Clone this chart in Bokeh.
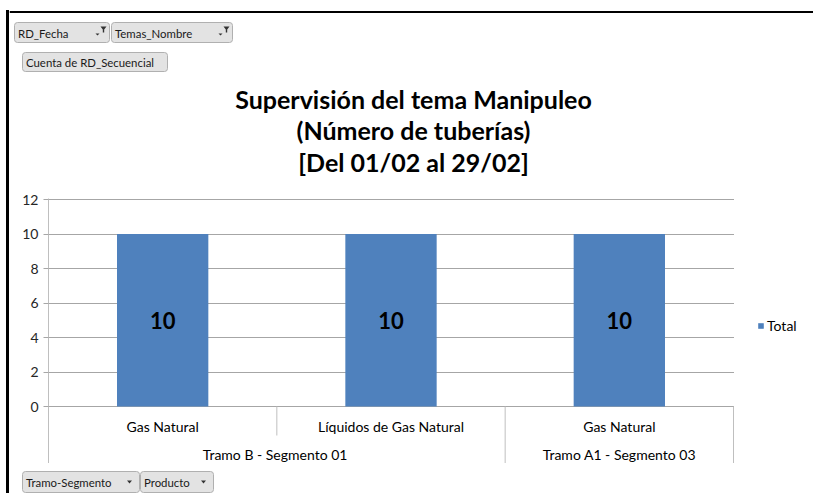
from bokeh.plotting import figure
from bokeh.layouts import column, row
from bokeh.models import (Range1d, FixedTicker, ColumnDataSource, BoxAnnotation,
                          Legend, LegendItem, Spacer)
from bokeh.core.properties import value
from bokeh.embed import file_html
from bokeh.resources import INLINE

# ---------------- data ----------------
products = ["Gas Natural", "Líquidos de Gas Natural", "Gas Natural"]
segments = ["Tramo  B - Segmento 01", "Tramo  B - Segmento 01", "Tramo A1 - Segmento 03"]
counts = [10, 10, 10]
y_ticks = [0, 2, 4, 6, 8, 10, 12]
title_lines = ["Supervisión del tema Manipuleo", "(Número de tuberías)", "[Del 01/02 al 29/02]"]
filter_fields = ["RD_Fecha", "Temas_Nombre"]
value_field = "Cuenta de RD_Secuencial"
axis_fields = ["Tramo-Segmento", "Producto"]
series_name = "Total"

# ---------------- styling / layout ----------------
W, H = 813, 493
LEFT_GAP, LEFT_LINE = 6, 3       # black frame line of the screenshot, left side
X0 = LEFT_GAP + LEFT_LINE        # page x where the content column starts
CW_ALL = W - X0
TOP_H = 186          # title/buttons band (page y 0 .. 186)
CH_MT = 12           # room above the plot frame for the top tick label
CH_H = 277           # chart band (page y 186 .. 463), frame 198 .. 463
BOT_H = H - TOP_H - CH_H
RIGHT_W = 79
PX_PER_UNIT = 17.25
FONT = "Lato"
BLUE = "#4f81bd"
GRID = "#a6a6a6"
BTN_FILL = "#e3e3e3"
BTN_LINE = "#b0b0b0"


def deco_fig(w, h, x0, y0):
    f = figure(width=w, height=h, output_backend="svg", toolbar_location=None,
               x_range=Range1d(x0, x0 + w), y_range=Range1d(y0 + h, y0),
               x_axis_location=None, y_axis_location=None)
    f.min_border_left = f.min_border_right = f.min_border_top = f.min_border_bottom = 0
    f.grid.visible = False
    f.outline_line_color = None
    f.background_fill_color = "white"
    f.border_fill_color = "white"
    return f


def button(f, label, l, t, r, b, kind):
    f.add_layout(BoxAnnotation(left=l, right=r, top=t, bottom=b, fill_color=BTN_FILL,
                               fill_alpha=1, line_color=BTN_LINE, line_alpha=1,
                               border_radius=3, level="underlay"))
    f.text(x=[l + 3.5], y=[(t + b) / 2 + 0.5], text=[label], text_align="left",
           text_baseline="middle", text_font=value(FONT), text_font_size="11.4px",
           text_color="#1a1a1a")
    cy = (t + b) / 2
    if kind == "filter":
        ax = r - 12
        f.patch(x=[ax - 2, ax + 2, ax], y=[cy + 1, cy + 1, cy + 3], fill_color="#333333",
                line_color=None)
        fx = r - 9
        fy = t + 4
        f.patch(x=[fx, fx + 6, fx + 3.7, fx + 3.7, fx + 2.3, fx + 2.3],
                y=[fy, fy, fy + 3, fy + 6, fy + 6, fy + 3], fill_color="#333333", line_color=None)
    elif kind == "drop":
        ax = r - 10
        f.patch(x=[ax - 2.5, ax + 2.5, ax], y=[cy - 1.5, cy - 1.5, cy + 1.5],
                fill_color="#333333", line_color=None)


# ---------------- top band: border, field buttons, title ----------------
top = deco_fig(CW_ALL, TOP_H, X0, 0)
top.quad(left=[X0], right=[W], top=[10.5], bottom=[12.5], fill_color="black", line_color=None)
button(top, filter_fields[0], 14, 22, 109, 42, "filter")
button(top, filter_fields[1], 111, 22, 232, 42, "filter")
button(top, value_field, 22, 52, 167, 71, None)
top.text(x=[413] * len(title_lines), y=[98.5, 129.5, 161], text=title_lines, text_align="center",
         text_baseline="middle", text_font=value(FONT), text_font_style="bold",
         text_font_size="25px", text_color="black")

# ---------------- chart ----------------
CW = CW_ALL - RIGHT_W
ML = 48 - X0
FW = CW - ML
FH = CH_H - CH_MT
n = len(products)
xs = [i + 0.5 for i in range(n)]
y_end = max(y_ticks) + 1 / PX_PER_UNIT
y_start = y_end - FH / PX_PER_UNIT

p = figure(width=CW, height=CH_H, output_backend="svg", toolbar_location=None,
           x_range=Range1d(0, n * FW / (FW - 1)), y_range=Range1d(y_start, y_end),
           x_axis_location=None)
p.min_border_left = ML
p.min_border_right = 0
p.min_border_top = CH_MT
p.min_border_bottom = 0
p.outline_line_color = None
p.background_fill_color = "white"
p.border_fill_color = "white"
p.xgrid.visible = False
p.ygrid.ticker = FixedTicker(ticks=y_ticks)
p.ygrid.grid_line_color = GRID

ax = p.yaxis[0]
ax.ticker = FixedTicker(ticks=y_ticks)
ax.axis_line_color = "#bfbfbf"
ax.major_tick_line_color = GRID
ax.major_tick_out = 5
ax.major_tick_in = 0
ax.minor_tick_line_color = None
ax.major_label_text_font = FONT
ax.major_label_text_font_size = "14px"
ax.major_label_text_color = "#262626"
ax.major_label_standoff = 5

src = ColumnDataSource(dict(x=xs, top=counts, mid=[c / 2 for c in counts],
                            lab=[str(c) for c in counts], prod=products, zero=[0] * n))
bars = p.vbar(x="x", top="top", bottom=0, width=0.4, source=src,
              fill_color=BLUE, line_color=None)
p.text(x="x", y="mid", text="lab", source=src, text_align="center", text_baseline="middle",
       text_font=value(FONT), text_font_style="bold", text_font_size="22px", text_color="black")

# category labels (inner level)
p.text(x="x", y="zero", text="prod", source=src, y_offset=20, text_align="center",
       text_baseline="middle", text_font=value(FONT), text_font_size="14px", text_color="black")

# group labels (outer level)
groups = []
for s in segments:
    if s not in groups:
        groups.append(s)
gx = [sum(x for x, s in zip(xs, segments) if s == g) / segments.count(g) for g in groups]
p.text(x=gx, y=[0] * len(groups), text=groups, y_offset=48, text_align="center",
       text_baseline="middle", text_font=value(FONT), text_font_size="14px", text_color="black")

# category separators
short_depth = -29 / PX_PER_UNIT
bx, by = [], []
for i in range(1, n + 1):
    bx.append(i)
    if i < n and segments[i - 1] == segments[i]:
        by.append(short_depth)
    else:
        by.append(y_start)
p.segment(x0=bx, y0=[0] * len(bx), x1=bx, y1=by, line_color="#bfbfbf", line_width=1)

# ---------------- legend band on the right ----------------
rf = deco_fig(RIGHT_W, CH_H, W - RIGHT_W, TOP_H)
key = rf.vbar(x=[W - RIGHT_W], top=[0], bottom=[0], width=0, fill_color=BLUE, line_color=None)
legend = Legend(items=[LegendItem(label=series_name, renderers=[key])],
                location=(23, (TOP_H + CH_H) - 333.5))
legend.glyph_width = 7
legend.glyph_height = 7
legend.label_height = 14
legend.label_standoff = 3
legend.padding = 0
legend.margin = 0
legend.spacing = 0
legend.border_line_color = None
legend.background_fill_alpha = 0
legend.label_text_font = FONT
legend.label_text_font_size = "14px"
legend.label_text_color = "#000000"
rf.add_layout(legend)

# ---------------- bottom band: axis field buttons ----------------
bottom = deco_fig(CW_ALL, BOT_H, X0, TOP_H + CH_H)
button(bottom, axis_fields[0], 22, 471, 139, 492, "drop")
button(bottom, axis_fields[1], 140, 471, 213, 492, "drop")

content = column(top, row(p, rf, spacing=0), bottom, spacing=0)
left_gap = Spacer(width=LEFT_GAP, height=H, styles={"background-color": "white"})
left_line = Spacer(width=LEFT_LINE, height=H,
                   styles={"background": "linear-gradient(to bottom, #ffffff 0px, #ffffff 10px, #000000 10px, #000000 100%)"})
layout = row(left_gap, left_line, content, spacing=0)
open("out.html", "w").write(file_html(layout, INLINE))
